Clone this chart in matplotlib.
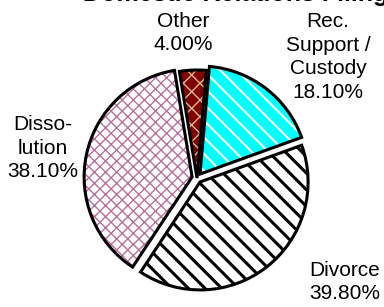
import matplotlib
matplotlib.use("Agg")
import matplotlib.pyplot as plt

plt.rcParams['font.family'] = ['Liberation Sans', 'DejaVu Sans']

# data
labels = ["Rec.\nSupport /\nCustody", "Divorce", "Disso-\nlution", "Other"]
shares = [18.1, 39.8, 38.1, 4.0]
title = "Domestic Relations Filings"

face_colors = ["#00FFFF", "white", "white", "#800000"]
hatch_colors = ["white", "black", "#B8709E", "#D8B88C"]
hatches = ["\\\\", "\\\\", "xxx", "xx"]
hatch_widths = [1.5, 2.2, 1.0, 1.0]
explode = [5, 5, 5, 0]  # pixels
# label positions in pixels (x from left, y from top)
label_pos = [(328, 57), (345, 282), (43, 148), (183, 33)]

W, H = 384, 307
fig = plt.figure(figsize=(W / 100, H / 100), dpi=100)
ax = fig.add_axes([0, 0, 1, 1])

center = (197, H - 178)
radius = 108

def draw_pie(**kw):
    w, _ = ax.pie(shares, startangle=85, counterclock=False, explode=explode,
                  center=center, radius=radius, **kw)
    return w

# filled + hatched layer
fills = draw_pie(wedgeprops=dict(linewidth=0))
for wdg, fc, hc, h, hw in zip(fills, face_colors, hatch_colors, hatches, hatch_widths):
    wdg.set_facecolor(fc)
    wdg.set_edgecolor(hc)
    wdg.set_hatch(h)
    if hasattr(wdg, "set_hatch_linewidth"):
        wdg.set_hatch_linewidth(hw)
# black outline layer
outlines = draw_pie(wedgeprops=dict(fill=False, edgecolor="black", linewidth=2.2))

for lab, val, (px, py) in zip(labels, shares, label_pos):
    ax.text(px, H - py, f"{lab}\n{val:.2f}%", ha="center", va="center",
            fontsize=15, color="black", linespacing=1.3)

ax.text(83, H - 1, title, ha="left", va="baseline", fontsize=18,
        fontweight="bold", color="black")

ax.set_xlim(0, W)
ax.set_ylim(0, H)
ax.set_aspect("auto")
ax.axis("off")

fig.savefig("out.png", dpi=100)
